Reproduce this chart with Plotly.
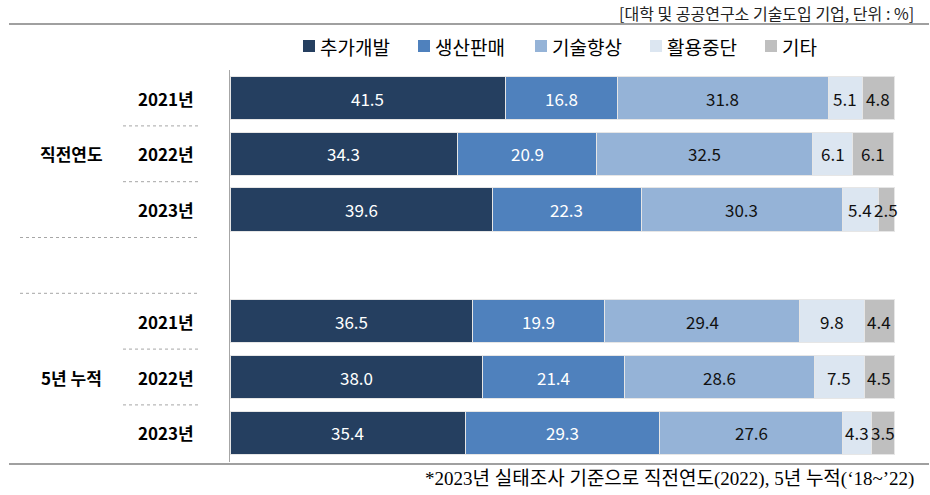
import plotly.graph_objects as go

# ---- data ----
row_labels = ["2021년", "2022년", "2023년", "2021년", "2022년", "2023년"]
row_pos = [0, 1, 2, 4, 5, 6]
group_labels = ["직전연도", "5년 누적"]
group_pos = [1, 5]
series_names = ["추가개발", "생산판매", "기술향상", "활용중단", "기타"]
추가개발 = [41.5, 34.3, 39.6, 36.5, 38.0, 35.4]
생산판매 = [16.8, 20.9, 22.3, 19.9, 21.4, 29.3]
기술향상 = [31.8, 32.5, 30.3, 29.4, 28.6, 27.6]
활용중단 = [5.1, 6.1, 5.4, 9.8, 7.5, 4.3]
기타 = [4.8, 6.1, 2.5, 4.4, 4.5, 3.5]
series_values = [추가개발, 생산판매, 기술향상, 활용중단, 기타]
colors = ["#253F60", "#4F81BD", "#95B3D7", "#DCE6F1", "#BFBFBF"]
text_colors = ["white", "white", "#111111", "#111111", "#111111"]

note_top = "[대학 및 공공연구소 기술도입 기업, 단위 : %]"
footnote = "*2023년 실태조사 기준으로 직전연도(2022), 5년 누적(‘18~’22)"

FONT = "Malgun Gothic, Noto Sans CJK KR, sans-serif"

# ---- layout geometry (pixels) ----
W, H = 930, 495
P_L, P_R, P_T, P_B = 9, 1, 25, 32          # plot area spans the full rule width
X0_PX, X100_PX = 230, 894                  # where 0% and 100% fall
XS = (X100_PX - X0_PX) / 100.0             # px per percent
ROW0_PX, ROW_STEP = 98.0, 55.8             # centre of first row, px per row
x_range = [(P_L - X0_PX) / XS, (W - P_R - X0_PX) / XS]
y_range = [(H - P_B - ROW0_PX) / ROW_STEP, (P_T - ROW0_PX) / ROW_STEP]  # reversed

def xd(px):
    return (px - X0_PX) / XS

def yd(py):
    return (py - ROW0_PX) / ROW_STEP

pw, ph = W - P_L - P_R, H - P_T - P_B
def paper(px, py):
    return (px - P_L) / pw, (H - P_B - py) / ph

fig = go.Figure()
annotations = []
cum = [0.0] * len(row_pos)
for name, vals, c, tc in zip(series_names, series_values, colors, text_colors):
    fig.add_trace(go.Bar(
        name=name, y=row_pos, x=vals, orientation="h",
        marker=dict(color=c, line=dict(color="#E6E6E6", width=1)),
        width=0.78, hoverinfo="skip", showlegend=False,
    ))
    for i, (p, v) in enumerate(zip(row_pos, vals)):
        annotations.append(dict(x=cum[i] + v / 2, y=p, xref="x", yref="y",
                                text=f"{v:.1f}", showarrow=False,
                                xanchor="center", yanchor="middle",
                                font=dict(size=17, color=tc, family=FONT)))
        cum[i] += v

for lab, p in zip(row_labels, row_pos):
    annotations.append(dict(x=xd(196), y=p, xref="x", yref="y",
                            text=f"<b>{lab}</b>", showarrow=False,
                            xanchor="right", yanchor="middle",
                            font=dict(size=17, color="#000000", family=FONT)))
for lab, p in zip(group_labels, group_pos):
    annotations.append(dict(x=xd(71), y=p, xref="x", yref="y",
                            text=f"<b>{lab}</b>", showarrow=False,
                            xanchor="center", yanchor="middle",
                            font=dict(size=17, color="#000000", family=FONT)))

x, y = paper(916, 13)
annotations.append(dict(x=x, y=y, xref="paper", yref="paper", text=note_top,
                        showarrow=False, xanchor="right", yanchor="middle",
                        font=dict(size=16, color="#222222", family=FONT)))
x, y = paper(916, 479)
annotations.append(dict(x=x, y=y, xref="paper", yref="paper", text=footnote,
                        showarrow=False, xanchor="right", yanchor="middle",
                        font=dict(size=19, color="#000000",
                                  family="Liberation Serif, Noto Sans CJK KR, serif")))

shapes = []
# legend: one square + label per series
legend_x_px = [303, 418, 535, 650, 765]
legend_y_px = 46
for name, c, lx in zip(series_names, colors, legend_x_px):
    shapes.append(dict(type="rect", xref="x", yref="y",
                       x0=xd(lx), x1=xd(lx + 12),
                       y0=yd(legend_y_px - 6), y1=yd(legend_y_px + 6),
                       fillcolor=c, line=dict(width=0)))
    annotations.append(dict(x=xd(lx + 15), y=yd(legend_y_px), xref="x", yref="y",
                            text=name, showarrow=False,
                            xanchor="left", yanchor="middle",
                            font=dict(size=19, color="#000000", family=FONT)))

# dotted separators on the label side
for yv in [0.5, 1.5, 4.5, 5.5]:
    shapes.append(dict(type="line", xref="x", yref="y", x0=xd(123), x1=xd(198),
                       y0=yv, y1=yv, line=dict(color="#A6A6A6", width=1, dash="dot")))
for yv in [2.5, 3.5]:
    shapes.append(dict(type="line", xref="x", yref="y", x0=xd(20), x1=xd(198),
                       y0=yv, y1=yv, line=dict(color="#A6A6A6", width=1, dash="dot")))
# vertical category axis line
shapes.append(dict(type="line", xref="x", yref="y", x0=xd(229.5), x1=xd(229.5),
                   y0=yd(70), y1=yd(462), line=dict(color="#A6A6A6", width=1)))

fig.update_layout(
    barmode="stack",
    width=W, height=H,
    margin=dict(l=P_L, r=P_R, t=P_T, b=P_B, autoexpand=False),
    paper_bgcolor="white", plot_bgcolor="white",
    font=dict(family=FONT, color="#000000"),
    # x-axis lines (mirrored) form the top and bottom rules
    xaxis=dict(range=x_range, showticklabels=False, ticks="", showgrid=False,
               zeroline=False, showline=True, mirror=True,
               linecolor="#A0A0A0", linewidth=1.5, fixedrange=True),
    yaxis=dict(range=y_range, visible=False, showgrid=False, zeroline=False,
               fixedrange=True),
    annotations=annotations,
    shapes=shapes,
    showlegend=False,
)

fig.write_html("out.html")
